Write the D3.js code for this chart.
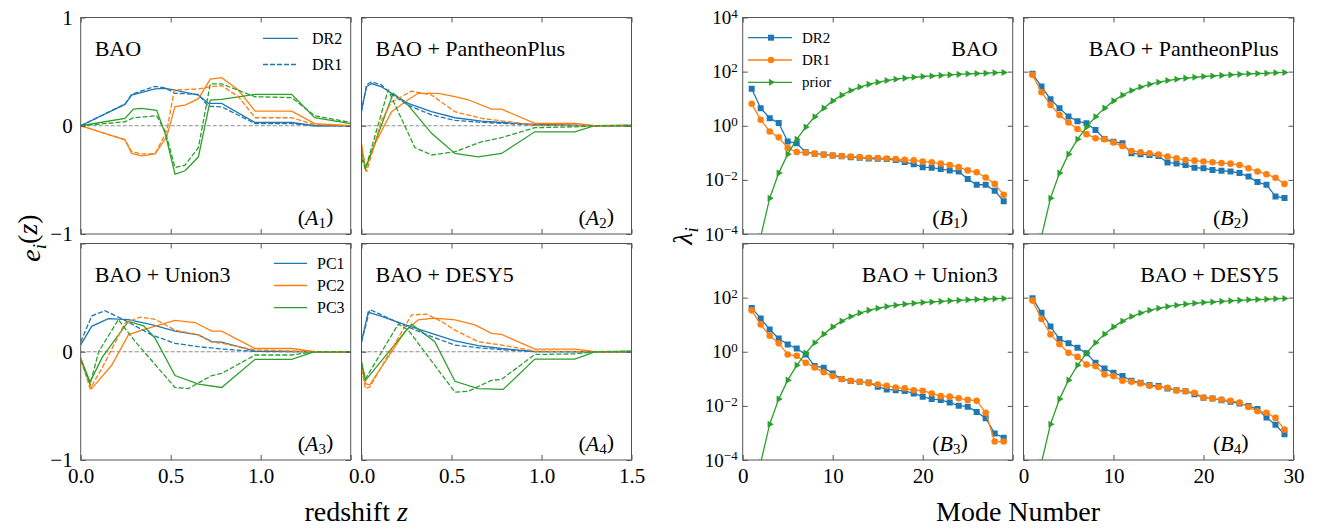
<!DOCTYPE html>
<html>
<head>
<meta charset="utf-8">
<script src="https://cdn.jsdelivr.net/npm/d3@7"></script>
<style>
    body { margin: 0; background: #fff; }
    svg, svg text, svg tspan { font-family: "Liberation Serif", "Tinos", "Nimbus Roman", "DejaVu Serif", serif !important; }
    svg text { fill: #000; }
</style>
</head>
<body>
<div id="chart"></div>
<script>

/* * * * * * * * * * * * * *
*   eigenmodes & spectra   *
* * * * * * * * * * * * * */

// ---- left panels: e_i(z), pairs of [z, e] ----
const Z_TICKS = [0, 0.5, 1.0, 1.5];
const E_TICKS = [-1, 0, 1];

const A1_DR2_PC1 = [[0,0],[0.246,0.197],[0.283,0.284],[0.413,0.34],[0.469,0.345],[0.524,0.33],[0.654,0.284],[0.709,0.207],[0.783,0.207],[0.969,0.03],[1.172,0.03],[1.30,0],[1.5,0]];
const A1_DR1_PC1 = [[0,0],[0.246,0.2],[0.283,0.29],[0.413,0.364],[0.469,0.35],[0.524,0.3],[0.654,0.29],[0.709,0.18],[0.783,0.175],[0.969,0.02],[1.172,0.02],[1.30,0],[1.5,0]];
const A1_DR2_PC2 = [[0,0],[0.246,-0.13],[0.283,-0.256],[0.339,-0.278],[0.413,-0.26],[0.478,-0.1],[0.524,0.176],[0.58,0.19],[0.654,0.25],[0.72,0.43],[0.783,0.444],[0.876,0.33],[0.969,0.135],[1.172,0.135],[1.30,0.02],[1.5,0]];
const A1_DR1_PC2 = [[0,0],[0.246,-0.13],[0.283,-0.24],[0.339,-0.26],[0.413,-0.258],[0.478,-0.05],[0.52,0.33],[0.654,0.34],[0.72,0.36],[0.783,0.37],[0.876,0.27],[0.969,0.074],[1.172,0.074],[1.30,0.01],[1.5,0]];
const A1_DR2_PC3 = [[0,0],[0.246,0.068],[0.293,0.154],[0.339,0.16],[0.422,0.142],[0.469,-0.07],[0.524,-0.447],[0.58,-0.416],[0.654,-0.287],[0.72,0.237],[0.783,0.244],[0.969,0.29],[1.172,0.29],[1.30,0.074],[1.5,0.02]];
const A1_DR1_PC3 = [[0,0],[0.246,0.037],[0.293,0.074],[0.422,0.092],[0.469,-0.05],[0.524,-0.386],[0.58,-0.364],[0.654,-0.2],[0.72,0.386],[0.783,0.386],[0.969,0.268],[1.172,0.26],[1.30,0.093],[1.5,0.03]];

const A2_DR2_PC1 = [[0,0.145],[0.028,0.36],[0.056,0.39],[0.111,0.36],[0.167,0.30],[0.259,0.207],[0.389,0.13],[0.519,0.074],[0.667,0.043],[0.778,0.03],[0.963,0.012],[1.185,0.006],[1.296,0],[1.5,0]];
const A2_DR1_PC1 = [[0,0.13],[0.028,0.377],[0.056,0.407],[0.111,0.377],[0.167,0.29],[0.259,0.19],[0.389,0.1],[0.519,0.05],[0.667,0.031],[0.778,0.022],[0.963,0.006],[1.296,0],[1.5,0]];
const A2_DR2_PC2 = [[0,-0.164],[0.022,-0.395],[0.08,-0.15],[0.167,0.13],[0.259,0.24],[0.315,0.3],[0.426,0.3],[0.519,0.27],[0.593,0.24],[0.722,0.154],[0.778,0.154],[0.963,0.022],[1.185,0.022],[1.296,0],[1.5,0]];
const A2_DR1_PC2 = [[0,-0.21],[0.028,-0.426],[0.111,0.05],[0.167,0.22],[0.278,0.32],[0.389,0.284],[0.519,0.13],[0.667,0.068],[0.778,0.046],[0.963,0.005],[1.296,0],[1.5,0]];
const A2_DR2_PC3 = [[0,-0.24],[0.022,-0.395],[0.176,0.30],[0.259,0.19],[0.389,-0.07],[0.519,-0.256],[0.648,-0.287],[0.778,-0.256],[0.963,-0.056],[1.185,-0.056],[1.296,0],[1.5,0.006]];
const A2_DR1_PC3 = [[0,-0.3],[0.022,-0.4],[0.148,0.33],[0.296,-0.2],[0.389,-0.27],[0.519,-0.24],[0.667,-0.148],[0.778,-0.11],[0.963,-0.018],[1.185,-0.01],[1.296,0],[1.5,0.003]];

const A3_DR2_PC1 = [[0,0.063],[0.061,0.235],[0.154,0.306],[0.265,0.297],[0.394,0.25],[0.524,0.19],[0.654,0.156],[0.728,0.094],[0.783,0.088],[0.969,0.006],[1.3,0],[1.5,0]];
const A3_DR1_PC1 = [[0,0.09],[0.061,0.33],[0.135,0.38],[0.246,0.29],[0.394,0.156],[0.524,0.078],[0.654,0.047],[0.783,0.025],[0.969,0.003],[1.3,0],[1.5,0]];
const A3_DR2_PC2 = [[0,-0.06],[0.061,-0.34],[0.172,-0.125],[0.265,0.156],[0.339,0.2],[0.524,0.29],[0.635,0.27],[0.728,0.19],[0.783,0.19],[0.969,0.03],[1.172,0.03],[1.3,0],[1.5,0]];
const A3_DR1_PC2 = [[0,-0.06],[0.052,-0.34],[0.117,-0.156],[0.246,0.266],[0.33,0.32],[0.413,0.3],[0.524,0.2],[0.654,0.156],[0.728,0.088],[0.783,0.078],[0.969,0.016],[1.3,0],[1.5,0]];
const A3_DR2_PC3 = [[0,-0.06],[0.052,-0.28],[0.12,-0.05],[0.265,0.28],[0.35,0.24],[0.413,0.125],[0.524,-0.22],[0.654,-0.3],[0.783,-0.33],[0.969,-0.07],[1.172,-0.07],[1.3,0],[1.5,0]];
const A3_DR1_PC3 = [[0,-0.08],[0.052,-0.3],[0.1,0.0],[0.209,0.297],[0.3,0.1],[0.524,-0.33],[0.598,-0.34],[0.728,-0.22],[0.783,-0.2],[0.969,-0.03],[1.172,-0.03],[1.3,0],[1.5,0]];

const A4_DR2_PC1 = [[0,0.093],[0.037,0.366],[0.111,0.326],[0.241,0.25],[0.389,0.17],[0.519,0.1],[0.648,0.056],[0.778,0.03],[0.963,0.002],[1.3,0],[1.5,0]];
const A4_DR1_PC1 = [[0,0.087],[0.046,0.39],[0.111,0.34],[0.241,0.24],[0.389,0.14],[0.519,0.062],[0.648,0.037],[0.778,0.019],[0.963,0.001],[1.3,0],[1.5,0]];
const A4_DR2_PC2 = [[0,-0.14],[0.022,-0.295],[0.046,-0.305],[0.241,0.186],[0.315,0.295],[0.407,0.31],[0.519,0.295],[0.63,0.248],[0.722,0.17],[0.778,0.16],[0.963,0.025],[1.185,0.025],[1.3,0],[1.5,0]];
const A4_DR1_PC2 = [[0,-0.16],[0.022,-0.34],[0.046,-0.325],[0.278,0.34],[0.361,0.347],[0.444,0.28],[0.519,0.2],[0.648,0.093],[0.778,0.062],[0.963,0.006],[1.3,0],[1.5,0]];
const A4_DR2_PC3 = [[0,-0.09],[0.022,-0.264],[0.278,0.255],[0.407,0.093],[0.519,-0.273],[0.648,-0.34],[0.787,-0.348],[0.963,-0.068],[1.185,-0.068],[1.3,0],[1.5,0.005]];
const A4_DR1_PC3 = [[0,-0.12],[0.022,-0.25],[0.204,0.255],[0.26,0.2],[0.519,-0.373],[0.593,-0.366],[0.722,-0.264],[0.778,-0.255],[0.963,-0.025],[1.185,-0.02],[1.3,0],[1.5,0.003]];

// ---- right panels: eigenvalues per mode ----
const MODES = [1,2,3,4,5,6,7,8,9,10,11,12,13,14,15,16,17,18,19,20,21,22,23,24,25,26,27,28,29];
const MODE_TICKS = [0, 10, 20, 30];
const LAMBDA_TICKS = [1e-4, 1e-2, 1, 1e2, 1e4];

const B1_DR2 = [23.4,4.47,1.91,1.26,0.263,0.224,0.105,0.0933,0.0871,0.0794,0.0741,0.0692,0.0661,0.0617,0.0603,0.0589,0.0537,0.0457,0.0380,0.0295,0.0282,0.0251,0.0224,0.0204,0.0107,0.0066,0.0066,0.0040,0.00162];
const B1_DR1 = [6.46,1.66,0.617,0.372,0.151,0.107,0.100,0.0933,0.0851,0.0794,0.0759,0.0724,0.0692,0.0661,0.0646,0.0617,0.0589,0.0550,0.0525,0.0479,0.0447,0.0398,0.0355,0.0295,0.0224,0.0191,0.0123,0.0071,0.0028];
const B2_DR2 = [83.2,28.2,9.55,4.47,2.19,1.48,1.23,0.692,0.324,0.257,0.224,0.0955,0.0891,0.0832,0.0759,0.0437,0.0407,0.0355,0.0282,0.0269,0.0234,0.0219,0.0204,0.0178,0.0132,0.0083,0.0066,0.00245,0.00214];
const B2_DR1 = [75.9,17.4,5.89,2.51,1.32,0.759,0.49,0.347,0.316,0.240,0.178,0.117,0.105,0.0955,0.0871,0.0724,0.0631,0.0537,0.0513,0.0479,0.0447,0.0417,0.0398,0.0355,0.0269,0.0204,0.0162,0.0120,0.0071];
const B3_DR2 = [41.7,17.0,6.61,3.09,1.86,1.32,0.794,0.295,0.257,0.158,0.0977,0.0832,0.0776,0.0724,0.0513,0.0407,0.0380,0.0355,0.0288,0.0219,0.0178,0.0166,0.0132,0.0102,0.0093,0.0060,0.0035,0.00095,0.00066];
const B3_DR1 = [33.9,10.2,3.89,2.04,0.794,0.708,0.389,0.263,0.174,0.126,0.0977,0.0851,0.0776,0.0692,0.0617,0.0550,0.0479,0.0447,0.0380,0.0363,0.0288,0.0229,0.0219,0.0191,0.0166,0.0155,0.0056,0.00048,0.00048];
const B4_DR2 = [95.5,27.5,8.51,2.95,2.04,1.41,0.871,0.389,0.240,0.166,0.126,0.0851,0.0708,0.0589,0.0537,0.0437,0.0380,0.0347,0.0269,0.0200,0.0186,0.0162,0.0141,0.0123,0.0100,0.0076,0.0037,0.0020,0.00089];
const B4_DR1 = [77.6,16.2,4.37,1.91,0.912,0.646,0.339,0.295,0.145,0.126,0.0851,0.0776,0.0676,0.0550,0.0501,0.0468,0.0372,0.0347,0.0302,0.0204,0.0186,0.0170,0.0155,0.0132,0.0091,0.0063,0.0056,0.0036,0.00132];
const PRIOR = [1e-6,8e-5,2.1e-3,0.0178,0.089,0.316,0.89,2.14,4.47,8.3,13.5,20,26.9,33.9,40.7,46.8,52.5,57.5,61.7,66.1,69.2,72.4,75.9,79.4,83.2,85.1,87.1,91.2,93.3];

// ---- layout ----
const W = 1317, H = 529;
const colA = [80.7, 361.5], colB = [742.7, 1023.5], rows = [17.5, 243.5];
const pw = 270, ph = 216.5;
const BLUE = "#1f77b4", ORANGE = "#ff7f0e", GREEN = "#2ca02c";
const PC_COLORS = [BLUE, ORANGE, GREEN];
const FRAME = "#555";
const SERIF = "'Liberation Serif', Tinos, 'Nimbus Roman', 'DejaVu Serif', serif";

const svg = d3.select("#chart").append("svg")
    .attr("width", W)
    .attr("height", H)
    .attr("font-family", SERIF);

const defs = svg.append("defs");

// common helpers
function clipFor(id, x0, y0) {
    defs.append("clipPath").attr("id", "clip-" + id)
        .append("rect").attr("x", x0).attr("y", y0).attr("width", pw).attr("height", ph);
    return "url(#clip-" + id + ")";
}

function styleAxis(g) {
    g.attr("font-family", SERIF);
    g.select(".domain").remove();
    g.selectAll(".tick line").attr("stroke", FRAME).attr("stroke-width", 1);
    g.selectAll(".tick text").attr("font-size", 21).attr("fill", "#000");
}

function drawAxes(g, x, y, x0, y0, xTicks, yTicks, xLabels, yLabels, xFmt, logY) {
    let bottom = g.append("g").attr("transform", "translate(0," + (y0 + ph) + ")")
        .call(d3.axisBottom(x).tickValues(xTicks).tickSize(-5).tickPadding(8)
            .tickFormat(d => xLabels.includes(d) ? xFmt(d) : ""));
    styleAxis(bottom);
    let top = g.append("g").attr("transform", "translate(0," + y0 + ")")
        .call(d3.axisTop(x).tickValues(xTicks).tickSize(-5).tickFormat(""));
    styleAxis(top);

    let left = g.append("g").attr("transform", "translate(" + x0 + ",0)")
        .call(d3.axisLeft(y).tickValues(yTicks).tickSize(-5).tickPadding(logY ? 5 : 8)
            .tickFormat(d => yLabels.includes(d) ? String(d) : ""));
    styleAxis(left);
    if (logY) {
        left.selectAll(".tick text").each(function (d) {
            if (!yLabels.includes(d)) return;
            let t = d3.select(this), e = Math.round(Math.log10(d));
            t.text(null).attr("font-size", 19);
            t.append("tspan").text("10");
            t.append("tspan").attr("dy", "-0.5em").attr("font-size", 13)
                .text(e < 0 ? "\u2212" + (-e) : e);
        });
    } else {
        left.selectAll(".tick text").text(d => yLabels.includes(d) ? (d < 0 ? "\u2212" + (-d) : d) : "");
    }
    let right = g.append("g").attr("transform", "translate(" + (x0 + pw) + ",0)")
        .call(d3.axisRight(y).tickValues(yTicks).tickSize(-5).tickFormat(""));
    styleAxis(right);

    g.append("rect")
        .attr("x", x0).attr("y", y0).attr("width", pw).attr("height", ph)
        .attr("fill", "none").attr("stroke", FRAME).attr("stroke-width", 1);
}

function panelLabel(g, x, y, letter, num) {
    let t = g.append("text").attr("x", x).attr("y", y).attr("font-size", 22);
    t.append("tspan").text("(");
    t.append("tspan").attr("font-style", "italic").text(letter);
    t.append("tspan").attr("font-size", 15).attr("dy", "0.25em").text(num);
    t.append("tspan").attr("dy", "-0.25em").text(")");
}

// ---- left column panels ----
const aPanels = [
    {id: "A1", title: "BAO", c: 0, r: 0, dr2: [A1_DR2_PC1, A1_DR2_PC2, A1_DR2_PC3], dr1: [A1_DR1_PC1, A1_DR1_PC2, A1_DR1_PC3]},
    {id: "A2", title: "BAO + PantheonPlus", c: 1, r: 0, dr2: [A2_DR2_PC1, A2_DR2_PC2, A2_DR2_PC3], dr1: [A2_DR1_PC1, A2_DR1_PC2, A2_DR1_PC3]},
    {id: "A3", title: "BAO + Union3", c: 0, r: 1, dr2: [A3_DR2_PC1, A3_DR2_PC2, A3_DR2_PC3], dr1: [A3_DR1_PC1, A3_DR1_PC2, A3_DR1_PC3]},
    {id: "A4", title: "BAO + DESY5", c: 1, r: 1, dr2: [A4_DR2_PC1, A4_DR2_PC2, A4_DR2_PC3], dr1: [A4_DR1_PC1, A4_DR1_PC2, A4_DR1_PC3]}
];

aPanels.forEach(function (p) {
    let x0 = colA[p.c], y0 = rows[p.r];
    let x = d3.scaleLinear().domain([0, 1.5]).range([x0, x0 + pw]);
    let y = d3.scaleLinear().domain([-1, 1]).range([y0 + ph, y0]);
    let g = svg.append("g").attr("class", "panel " + p.id);
    let clip = clipFor(p.id, x0, y0);

    let plot = g.append("g").attr("clip-path", clip);
    plot.append("line")
        .attr("x1", x(0)).attr("x2", x(1.5)).attr("y1", y(0)).attr("y2", y(0))
        .attr("stroke", "#8c8c8c").attr("stroke-width", 1).attr("stroke-dasharray", "4,2");

    let line = d3.line().x(d => x(d[0])).y(d => y(d[1]));
    p.dr2.forEach((s, i) => plot.append("path").attr("d", line(s))
        .attr("fill", "none").attr("stroke", PC_COLORS[i]).attr("stroke-width", 1.3));
    p.dr1.forEach((s, i) => plot.append("path").attr("d", line(s))
        .attr("fill", "none").attr("stroke", PC_COLORS[i]).attr("stroke-width", 1.3)
        .attr("stroke-dasharray", "5,2"));

    let xLabels = p.r === 1 ? (p.c === 0 ? [0, 0.5, 1.0] : Z_TICKS) : [];
    let yLabels = p.c === 0 ? (p.r === 0 ? E_TICKS : [-1, 0]) : [];
    drawAxes(g, x, y, x0, y0, Z_TICKS, E_TICKS, xLabels, yLabels, d3.format(".1f"), false);

    g.append("text").attr("x", x0 + 14).attr("y", y0 + 38.5).attr("font-size", 22).text(p.title);
    panelLabel(g, x0 + 217, y0 + ph - 9.5, "A", p.id[1]);
});

// legends, left column
const legA1 = [{name: "DR2", dash: null, y: 38.3}, {name: "DR1", dash: "5,2", y: 64.5}];
legA1.forEach(function (d) {
    svg.append("line").attr("x1", 263).attr("x2", 298).attr("y1", d.y).attr("y2", d.y)
        .attr("stroke", BLUE).attr("stroke-width", 1.3).attr("stroke-dasharray", d.dash);
    svg.append("text").attr("x", 312).attr("y", d.y + 5.5).attr("font-size", 16).text(d.name);
});
const legA3 = ["PC1", "PC2", "PC3"];
legA3.forEach(function (name, i) {
    let yy = 263.3 + i * 22.2;
    svg.append("line").attr("x1", 274).attr("x2", 307).attr("y1", yy).attr("y2", yy)
        .attr("stroke", PC_COLORS[i]).attr("stroke-width", 1.3);
    svg.append("text").attr("x", 317).attr("y", yy + 5.5).attr("font-size", 16).text(name);
});

// ---- right column panels ----
const bPanels = [
    {id: "B1", title: "BAO", c: 0, r: 0, dr2: B1_DR2, dr1: B1_DR1},
    {id: "B2", title: "BAO + PantheonPlus", c: 1, r: 0, dr2: B2_DR2, dr1: B2_DR1},
    {id: "B3", title: "BAO + Union3", c: 0, r: 1, dr2: B3_DR2, dr1: B3_DR1},
    {id: "B4", title: "BAO + DESY5", c: 1, r: 1, dr2: B4_DR2, dr1: B4_DR1}
];

const squareSym = d3.symbol().type(d3.symbolSquare).size(36);
const triSym = d3.symbol().type(d3.symbolTriangle).size(22);

function drawSeries(plot, x, y, values, color, kind) {
    let pts = MODES.map((m, i) => [m, values[i]]);
    plot.append("path")
        .attr("d", d3.line().x(d => x(d[0])).y(d => y(d[1]))(pts))
        .attr("fill", "none").attr("stroke", color).attr("stroke-width", 1.3);
    let mk = plot.append("g").selectAll("g").data(pts).enter();
    if (kind === "circle") {
        mk.append("circle").attr("cx", d => x(d[0])).attr("cy", d => y(d[1]))
            .attr("r", 3.3).attr("fill", color);
    } else if (kind === "square") {
        mk.append("path").attr("d", squareSym)
            .attr("transform", d => "translate(" + x(d[0]) + "," + y(d[1]) + ")")
            .attr("fill", color);
    } else {
        mk.append("path").attr("d", triSym)
            .attr("transform", d => "translate(" + x(d[0]) + "," + y(d[1]) + ") rotate(90)")
            .attr("fill", color);
    }
}

bPanels.forEach(function (p) {
    let x0 = colB[p.c], y0 = rows[p.r];
    let x = d3.scaleLinear().domain([0, 30]).range([x0, x0 + pw]);
    let y = d3.scaleLog().domain([1e-4, 1e4]).range([y0 + ph, y0]);
    let g = svg.append("g").attr("class", "panel " + p.id);
    let clip = clipFor(p.id, x0, y0);
    let plot = g.append("g").attr("clip-path", clip);

    drawSeries(plot, x, y, p.dr2, BLUE, "square");
    drawSeries(plot, x, y, p.dr1, ORANGE, "circle");
    drawSeries(plot, x, y, PRIOR, GREEN, "tri");

    let xLabels = p.r === 1 ? (p.c === 0 ? [0, 10, 20] : MODE_TICKS) : [];
    let yLabels = p.c === 0 ? (p.r === 0 ? LAMBDA_TICKS : [1e-4, 1e-2, 1, 1e2]) : [];
    drawAxes(g, x, y, x0, y0, MODE_TICKS, LAMBDA_TICKS, xLabels, yLabels, d3.format("d"), true);

    g.append("text").attr("x", x0 + pw - 15).attr("y", y0 + 38)
        .attr("text-anchor", "end").attr("font-size", 22).text(p.title);
    panelLabel(g, x0 + 189.5, y0 + ph - 9.5, "B", p.id[1]);
});

// legend B1
const legB1 = [
    {name: "DR2", color: BLUE, kind: "square", y: 37.7},
    {name: "DR1", color: ORANGE, kind: "circle", y: 60},
    {name: "prior", color: GREEN, kind: "tri", y: 82.3}
];
legB1.forEach(function (d) {
    svg.append("line").attr("x1", 748).attr("x2", 792).attr("y1", d.y).attr("y2", d.y)
        .attr("stroke", d.color).attr("stroke-width", 1.3);
    if (d.kind === "circle") {
        svg.append("circle").attr("cx", 771).attr("cy", d.y).attr("r", 3.3).attr("fill", d.color);
    } else {
        svg.append("path").attr("d", d.kind === "square" ? squareSym : triSym)
            .attr("transform", "translate(771," + d.y + ")" + (d.kind === "tri" ? " rotate(90)" : ""))
            .attr("fill", d.color);
    }
    svg.append("text").attr("x", 802).attr("y", d.y + 5).attr("font-size", 15).text(d.name);
});

// ---- axis titles ----
let xtA = svg.append("text").attr("x", (colA[0] + colA[1] + pw) / 2).attr("y", 521)
    .attr("text-anchor", "middle").attr("font-size", 28);
xtA.append("tspan").text("redshift ");
xtA.append("tspan").attr("font-style", "italic").text("z");

svg.append("text").attr("x", (colB[0] + colB[1] + pw) / 2).attr("y", 521)
    .attr("text-anchor", "middle").attr("font-size", 28).text("Mode Number");

let ytA = svg.append("text").attr("transform", "translate(40,238) rotate(-90)")
    .attr("text-anchor", "middle").attr("font-size", 28);
ytA.append("tspan").attr("font-style", "italic").text("e");
ytA.append("tspan").attr("font-style", "italic").attr("font-size", 19).attr("dy", "0.3em").text("i");
ytA.append("tspan").attr("dy", "-0.3em").text("(");
ytA.append("tspan").attr("font-style", "italic").text("z");
ytA.append("tspan").text(")");

let ytB = svg.append("text").attr("transform", "translate(692,236) rotate(-90)")
    .attr("text-anchor", "middle").attr("font-size", 28);
ytB.append("tspan").attr("font-style", "italic").text("\u03bb");
ytB.append("tspan").attr("font-style", "italic").attr("font-size", 19).attr("dy", "0.3em").text("i");

</script>
</body>
</html>
